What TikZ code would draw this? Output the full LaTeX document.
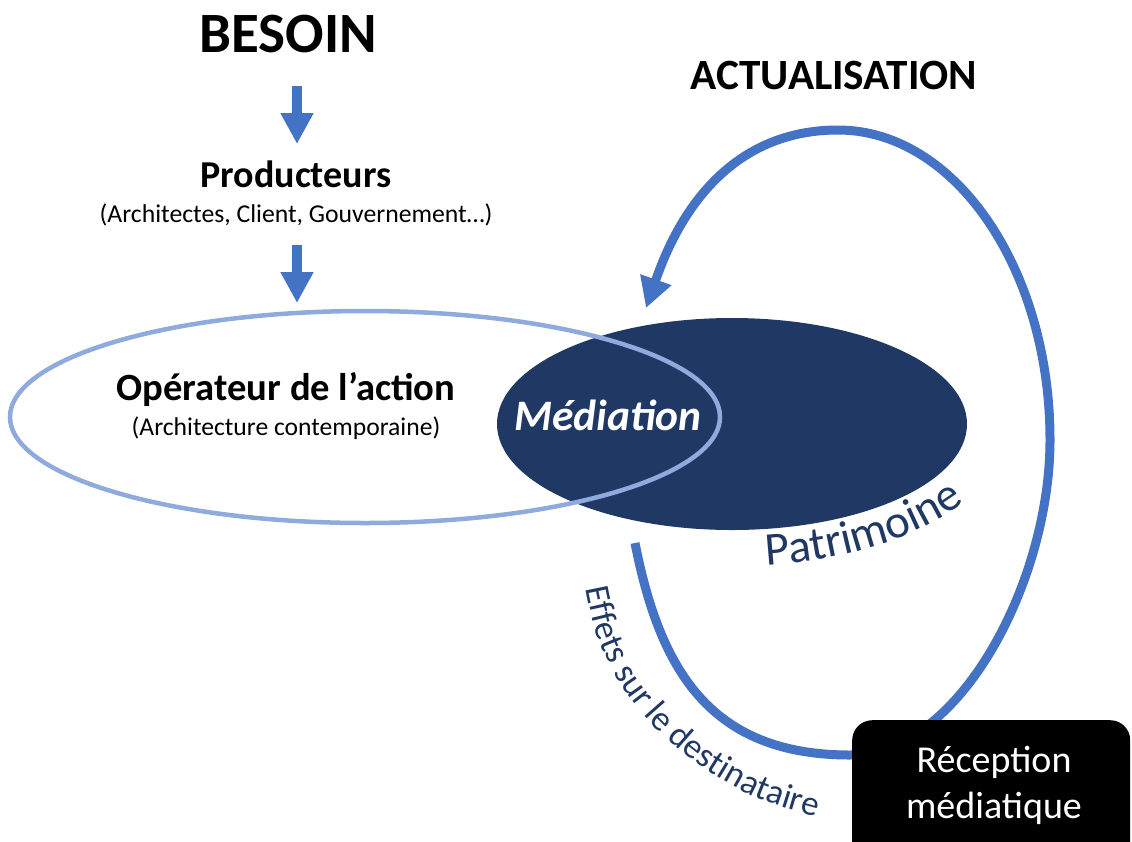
\documentclass[tikz,border=0pt]{standalone}
\usepackage{fontspec}
\setmainfont{Carlito}
\usetikzlibrary{arrows.meta,decorations.text,shapes.geometric}
\definecolor{arrowblue}{HTML}{4472C4}
\definecolor{lightblue}{HTML}{8FAADC}
\definecolor{navy}{HTML}{203864}
\begin{document}
\begin{tikzpicture}[x=1pt,y=1pt,
  lbl/.style={inner sep=0pt, outer sep=0pt, anchor=base, text=black},
  blockarrow/.style={line width=10pt, draw=arrowblue, -{Triangle[length=31pt,width=31pt]}},
  loopline/.style={line width=9pt, draw=arrowblue, -{Triangle[length=30pt,width=31pt]}},
  blob/.style={ellipse, inner sep=0pt, outer sep=0pt}]
\clip (0,0) rectangle (1132,-841);
\fill[white] (0,0) rectangle (1132,-841);

% top chain
\node[lbl, font=\bfseries\fontsize{57}{57}\selectfont] (besoin) at (288,-52) {BESOIN};
\coordinate (a1s) at (297,-86);
\coordinate (a1e) at (297,-144);
\draw[blockarrow] (a1s) -- (a1e);
\node[lbl, font=\bfseries\fontsize{38}{38}\selectfont] (prod) at (296,-187) {Producteurs};
\node[lbl, font=\fontsize{25.7}{26}\selectfont] (prodsub) at (296,-222) {(Architectes, Client, Gouvernement…)};
\coordinate (a2s) at (297,-245);
\coordinate (a2e) at (297,-303);
\draw[blockarrow] (a2s) -- (a2e);

% ellipses
\node[blob, fill=navy, minimum width=470pt, minimum height=212pt] (patr) at (732,-424) {};
\node[blob, draw=lightblue, line width=4.5pt, minimum width=710pt, minimum height=212pt] (oper) at (365,-417) {};

\node[lbl, font=\bfseries\fontsize{38.6}{40}\selectfont] (opt) at (286,-400) {Opérateur de l’action};
\node[lbl, font=\fontsize{25.6}{26}\selectfont] (ops) at (286,-435) {(Architecture contemporaine)};
\node[lbl, font=\bfseries\itshape\fontsize{43.5}{44}\selectfont, text=white] (med) at (608,-430) {Médiation};

\node[lbl, font=\bfseries\fontsize{43.2}{44}\selectfont] (actu) at (834,-89) {ACTUALISATION};

% big loop (Effets -> Réception -> Actualisation -> Médiation)
\coordinate (loopstart) at (635,-543);
\coordinate (loopbottom) at (850,-755);
\coordinate (loopright) at (1050,-440);
\coordinate (looptop) at (838,-130);
\coordinate (looptip) at (646,-308);
\draw[loopline] (loopstart) .. controls (660,-670) and (710,-755) .. (loopbottom)
  .. controls (960,-755) and (1050,-581) .. (loopright)
  .. controls (1050,-269) and (955,-130) .. (looptop)
  .. controls (713,-130) and (669,-242) .. (looptip);

% Patrimoine (curved text)
\path[decorate, decoration={text along path, text={|\fontsize{47}{47}\selectfont\color{navy}|Patrimoine}}] (766,-565) arc[start angle=-83, end angle=-5, x radius=279pt, y radius=142pt];

% Effets sur le destinataire
\path[decorate, decoration={text along path, text={|\fontsize{35}{35}\selectfont\color{navy}|Effets sur le destinataire}}] plot[smooth] coordinates {(586,-588) (597,-635) (618,-680) (650,-722) (695,-762) (755,-797) (830,-820) (918,-833)};

% reception box
\node[fill=black, rounded corners=20pt, minimum width=278pt, minimum height=150pt, anchor=north west, inner sep=0pt] (recbox) at (852,-720) {};
\node[lbl, text=white, font=\fontsize{38}{38}\selectfont] (rec1) at (994,-772) {Réception};
\node[lbl, text=white, font=\fontsize{38}{38}\selectfont] (rec2) at (994,-818) {médiatique};
\end{tikzpicture}
\end{document}
